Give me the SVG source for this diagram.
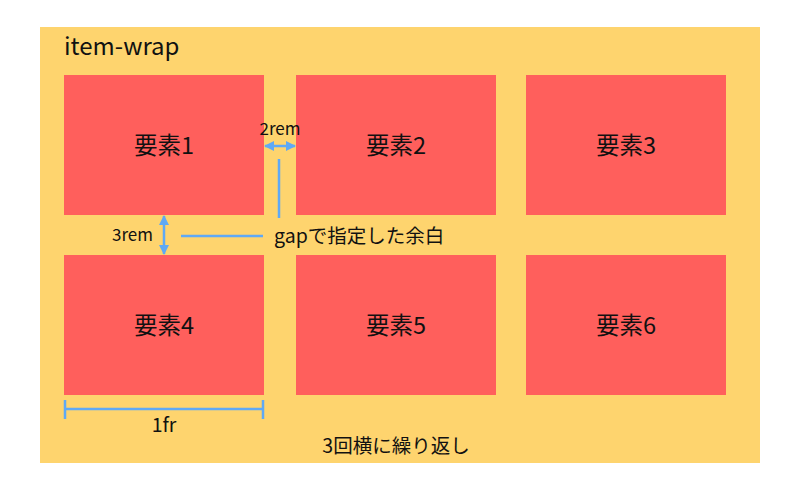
<svg xmlns="http://www.w3.org/2000/svg" width="800" height="490" viewBox="0 0 800 490">
<style>
text{font-family:"Noto Sans CJK JP","Noto Sans",sans-serif;fill:#111}
.box{fill:#FF5F5C}
.lbl{font-size:23.5px;text-anchor:middle}
.sm{font-size:17px}
.ln{stroke:#5FA9F5;stroke-width:2.5;fill:none}
</style>
<defs>
<marker id="ah" viewBox="0 0 10 10" refX="9" refY="5" markerWidth="4" markerHeight="4" orient="auto-start-reverse">
<path d="M0,0 L10,5 L0,10 z" fill="#5FA9F5"/>
</marker>
</defs>
<rect x="40" y="27" width="720" height="436" fill="#FED46E"/>
<text x="64" y="55" font-size="24">item-wrap</text>
<g id="n1"><rect class="box" x="64" y="75" width="200" height="140"/><text class="lbl" x="164" y="154">要素1</text></g>
<g id="n2"><rect class="box" x="296" y="75" width="200" height="140"/><text class="lbl" x="396" y="154">要素2</text></g>
<g id="n3"><rect class="box" x="526" y="75" width="200" height="140"/><text class="lbl" x="626" y="154">要素3</text></g>
<g id="n4"><rect class="box" x="64" y="255" width="200" height="140"/><text class="lbl" x="164" y="334">要素4</text></g>
<g id="n5"><rect class="box" x="296" y="255" width="200" height="140"/><text class="lbl" x="396" y="334">要素5</text></g>
<g id="n6"><rect class="box" x="526" y="255" width="200" height="140"/><text class="lbl" x="626" y="334">要素6</text></g>
<g id="connectors">
<line class="ln" x1="265" y1="146" x2="295" y2="146" marker-start="url(#ah)" marker-end="url(#ah)"/>
<line class="ln" x1="279" y1="159" x2="279" y2="218"/>
<line class="ln" x1="164" y1="216" x2="164" y2="254" marker-start="url(#ah)" marker-end="url(#ah)"/>
<line class="ln" x1="181" y1="236" x2="263" y2="236"/>
<line class="ln" x1="65" y1="409" x2="263" y2="409"/>
<line class="ln" x1="65" y1="400" x2="65" y2="419"/>
<line class="ln" x1="263" y1="400" x2="263" y2="419"/>
</g>
<text class="sm" x="280" y="135" text-anchor="middle">2rem</text>
<text class="sm" x="112" y="241">3rem</text>
<text x="274" y="243" font-size="19.5">gapで指定した余白</text>
<text x="164" y="432" font-size="19.5" text-anchor="middle">1fr</text>
<text x="396" y="453" font-size="19.5" text-anchor="middle">3回横に繰り返し</text>
</svg>
